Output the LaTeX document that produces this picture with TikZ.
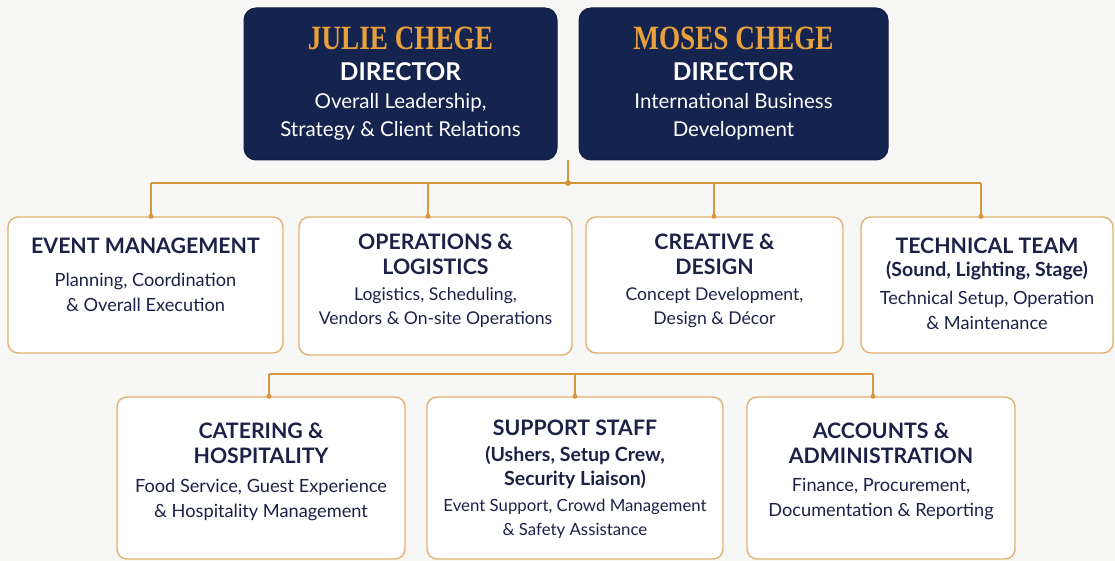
\documentclass[tikz,border=0pt]{standalone}
\usepackage{fontspec}
\setmainfont{Lato}
\newfontfamily\namefont[FakeStretch=0.8]{Liberation Serif}
\usepackage{xcolor}
\definecolor{navy}{HTML}{15244E}
\definecolor{gold}{HTML}{E9A23B}
\definecolor{wire}{HTML}{D6973A}
\definecolor{edge}{HTML}{E2B070}
\definecolor{ink}{HTML}{1D2147}
\definecolor{paper}{HTML}{F7F7F5}
\usetikzlibrary{backgrounds}

\begin{document}
\begin{tikzpicture}
[x=1pt,y=-1pt,
dirbox/.style={rectangle,draw=navy!85!black,fill=navy,rounded corners=12pt,line width=1pt},
deptbox/.style={rectangle,draw=edge,fill=white,rounded corners=10pt,line width=1.4pt},
dirname/.style={inner sep=0pt,text=gold,font=\namefont\bfseries\fontsize{34}{36}\selectfont},
dirrole/.style={inner sep=0pt,text=white,font=\bfseries\fontsize{24.5}{28}\selectfont},
dirtext/.style={inner sep=0pt,text=white,align=center,font=\fontsize{20.5}{28}\selectfont},
depthead/.style={inner sep=0pt,text=ink,align=center,font=\bfseries\fontsize{21.3}{25}\selectfont},
deptsub/.style={inner sep=0pt,text=ink,align=center,font=\bfseries\fontsize{19.5}{24}\selectfont},
depttext/.style={inner sep=0pt,text=ink,align=center,font=\fontsize{18.2}{25}\selectfont},
wireline/.style={draw=wire,line width=1.3pt},
tip/.style={fill=wire}]

\useasboundingbox [fill=paper] (0,0) rectangle (1115,561);

\node at (400.5,84) [dirbox,minimum width=313pt,minimum height=152pt] (julie) {};
\node at (733.5,84) [dirbox,minimum width=309pt,minimum height=152pt] (moses) {};
\node at (400.5,38)  [dirname] (julie-n) {JULIE CHEGE};
\node at (400.5,72)  [dirrole] (julie-r) {DIRECTOR};
\node at (400.5,117) [dirtext] (julie-t) {Overall Leadership,\\Strategy \& Client Relations};
\node at (733.5,38)  [dirname] (moses-n) {MOSES CHEGE};
\node at (733.5,72)  [dirrole] (moses-r) {DIRECTOR};
\node at (733.5,117) [dirtext] (moses-t) {International Business\\Development};

\node at (145.5,285) [deptbox,minimum width=275pt,minimum height=136pt] (evt) {};
\node at (435.5,286) [deptbox,minimum width=273pt,minimum height=138pt] (ops) {};
\node at (714.5,285) [deptbox,minimum width=257pt,minimum height=136pt] (cre) {};
\node at (987,285)   [deptbox,minimum width=252pt,minimum height=136pt] (tec) {};
\node at (261,478)   [deptbox,minimum width=288pt,minimum height=162pt] (cat) {};
\node at (575,478)   [deptbox,minimum width=296pt,minimum height=162pt] (sup) {};
\node at (881,478)   [deptbox,minimum width=268pt,minimum height=162pt] (acc) {};

\node at (145.5,246) [depthead] (evt-h) {EVENT MANAGEMENT};
\node at (145.5,292.5) [depttext] (evt-t) {Planning, Coordination\\\& Overall Execution};
\node at (435.5,254.5) [depthead] (ops-h) {OPERATIONS \&\\LOGISTICS};
\node at (435.5,308) [depttext,font=\fontsize{17.6}{24}\selectfont] (ops-t) {Logistics, Scheduling,\\Vendors \& On-site Operations};
\node at (714.5,254.5) [depthead] (cre-h) {CREATIVE \&\\DESIGN};
\node at (714.5,308) [depttext,font=\fontsize{17.6}{24}\selectfont] (cre-t) {Concept Development,\\Design \& Décor};
\node at (987,246) [depthead] (tec-h) {TECHNICAL TEAM};
\node at (987,271) [deptsub] (tec-s) {(Sound, Lighting, Stage)};
\node at (987,310.5) [depttext] (tec-t) {Technical Setup, Operation\\\& Maintenance};
\node at (261,443) [depthead] (cat-h) {CATERING \&\\HOSPITALITY};
\node at (261,499.5) [depttext] (cat-t) {Food Service, Guest Experience\\\& Hospitality Management};
\node at (575,428) [depthead] (sup-h) {SUPPORT STAFF};
\node at (575,467) [deptsub] (sup-s) {(Ushers, Setup Crew,\\Security Liaison)};
\node at (575,519) [depttext,font=\fontsize{16.8}{24}\selectfont] (sup-t) {Event Support, Crowd Management\\\& Safety Assistance};
\node at (881,443) [depthead] (acc-h) {ACCOUNTS \&\\ADMINISTRATION};
\node at (881,499.5) [depttext] (acc-t) {Finance, Procurement,\\Documentation \& Reporting};

\coordinate (hub) at (568,183);
\coordinate (b1) at (151,183);
\coordinate (b2) at (428,183);
\coordinate (b3) at (714,183);
\coordinate (b4) at (981,183);
\coordinate (c1) at (269,374);
\coordinate (c2) at (575,374);
\coordinate (c3) at (873,374);

\draw [wireline] (hub |- julie.south) to (hub);
\draw [wireline] (b1) to (b4);
\draw [wireline] (b1) to (b1 |- evt.north);
\draw [wireline] (b2) to (b2 |- ops.north);
\draw [wireline] (b3) to (b3 |- cre.north);
\draw [wireline] (b4) to (b4 |- tec.north);
\draw [wireline] (c1) to (c3);
\draw [wireline] (c1) to (c1 |- cat.north);
\draw [wireline] (c2) to (c2 |- sup.north);
\draw [wireline] (c3) to (c3 |- acc.north);
\fill [tip] (hub) circle (3pt);
\fill [tip] (b1 |- evt.north) circle (2.5pt);
\fill [tip] (b2 |- ops.north) circle (2.5pt);
\fill [tip] (b3 |- cre.north) circle (2.5pt);
\fill [tip] (b4 |- tec.north) circle (2.5pt);
\fill [tip] (c1 |- cat.north) circle (2.5pt);
\fill [tip] (c2 |- sup.north) circle (2.5pt);
\fill [tip] (c3 |- acc.north) circle (2.5pt);
\end{tikzpicture}
\end{document}
